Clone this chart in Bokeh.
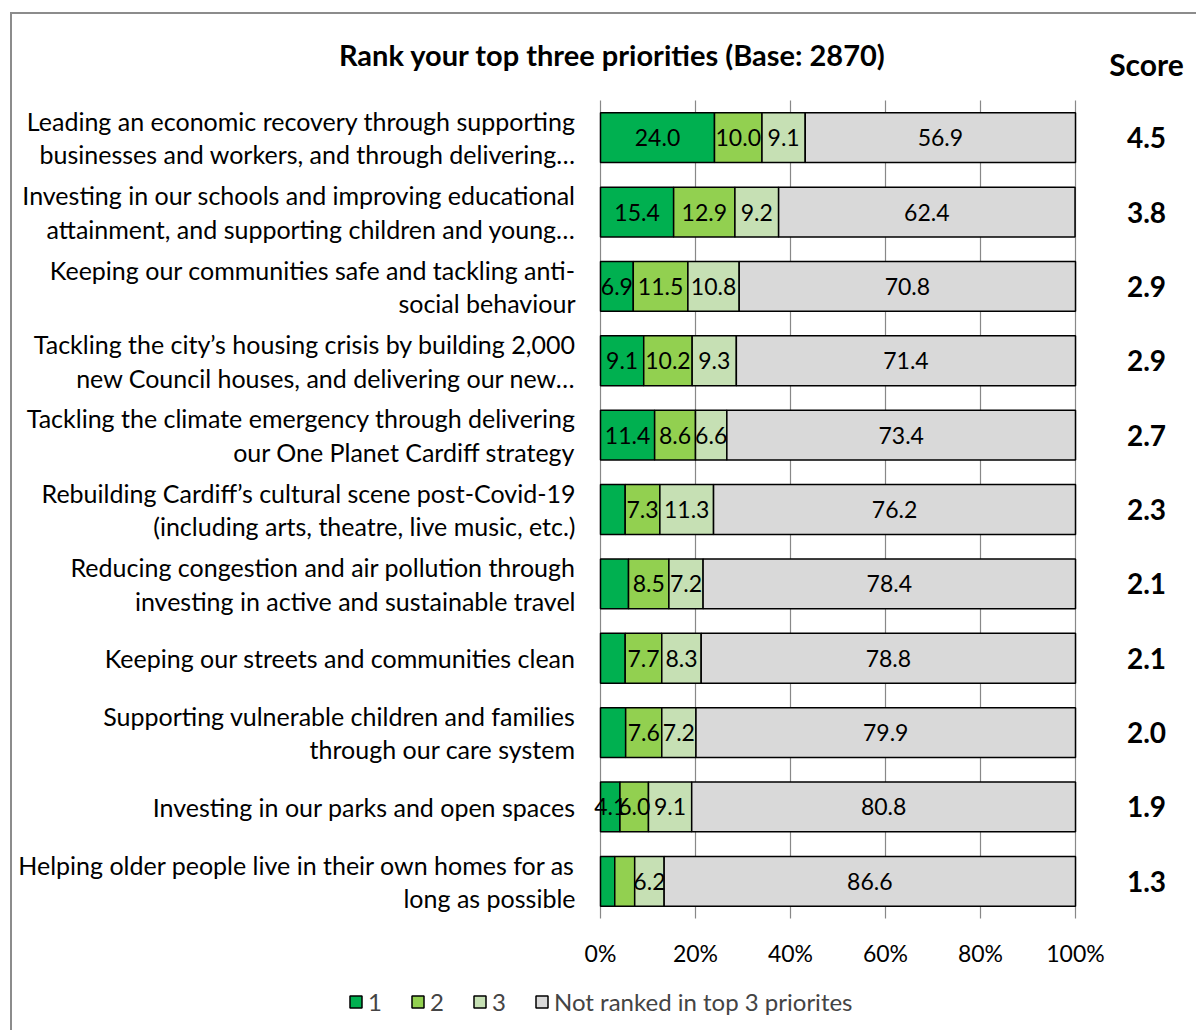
from bokeh.plotting import figure
from bokeh.models import Range1d, ColumnDataSource
from bokeh.core.properties import value
from bokeh.embed import file_html
from bokeh.resources import INLINE

categories = [
    "Leading an economic recovery through supporting\nbusinesses and workers, and through delivering\u2026",
    "Investing in our schools and improving educational\nattainment, and supporting children and young\u2026",
    "Keeping our communities safe and tackling anti-\nsocial behaviour",
    "Tackling the city\u2019s housing crisis by building 2,000\nnew Council houses, and delivering our new\u2026",
    "Tackling the climate emergency through delivering\nour One Planet Cardiff strategy",
    "Rebuilding Cardiff\u2019s cultural scene post-Covid-19\n(including arts, theatre, live music, etc.)",
    "Reducing congestion and air pollution through\ninvesting in active and sustainable travel",
    "Keeping our streets and communities clean",
    "Supporting vulnerable children and families\nthrough our care system",
    "Investing in our parks and open spaces",
    "Helping older people live in their own homes for as\nlong as possible",
]
rank1 = [24.0, 15.4, 6.9, 9.1, 11.4, 5.2, 5.9, 5.2, 5.3, 4.1, 3.0]
rank2 = [10.0, 12.9, 11.5, 10.2, 8.6, 7.3, 8.5, 7.7, 7.6, 6.0, 4.2]
rank3 = [9.1, 9.2, 10.8, 9.3, 6.6, 11.3, 7.2, 8.3, 7.2, 9.1, 6.2]
not_ranked = [56.9, 62.4, 70.8, 71.4, 73.4, 76.2, 78.4, 78.8, 79.9, 80.8, 86.6]
scores = ["4.5", "3.8", "2.9", "2.9", "2.7", "2.3", "2.1", "2.1", "2.0", "1.9", "1.3"]
show1 = [1, 1, 1, 1, 1, 0, 0, 0, 0, 1, 0]
show2 = [1, 1, 1, 1, 1, 1, 1, 1, 1, 1, 0]
series_names = ["1", "2", "3", "Not ranked in top 3 priorites"]
x_ticks = [0, 20, 40, 60, 80, 100]
x_tick_labels = ["0%", "20%", "40%", "60%", "80%", "100%"]
title_text = "Rank your top three priorities (Base: 2870)"
score_header = "Score"

colors = ["#00B050", "#92D050", "#C6E0B4", "#D9D9D9"]
FONT = "Lato"
keys = ["s1", "s2", "s3", "s4"]
n = len(categories)

# ---- layout (pixels, canvas coordinates) ----
W, H = 1186, 1018
PLOT_LEFT = 588          # canvas x of 0%
PLOT_W = 475             # pixels for 0..100%
BARS_TOP = 86            # canvas y of top of the bar area
BARS_BOTTOM = 904        # canvas y of bottom of the bar area
pxx = PLOT_W / 100.0
pxy = (BARS_BOTTOM - BARS_TOP) / n
x_range = Range1d(-PLOT_LEFT / pxx, (W - PLOT_LEFT) / pxx)
y_range = Range1d(-(H - BARS_BOTTOM) / pxy, n + BARS_TOP / pxy)

ypos = [n - i - 0.5 for i in range(n)]  # category slots, top to bottom
src = ColumnDataSource({"y": ypos, "s1": rank1, "s2": rank2, "s3": rank3, "s4": not_ranked})

p = figure(width=W, height=H, x_range=x_range, y_range=y_range,
           output_backend="svg", toolbar_location=None,
           x_axis_location=None, y_axis_location=None,
           min_border=0,
           styles={"border-left": "2px solid #8c8c8c", "border-top": "2px solid #8c8c8c",
                   "margin-top": "12px", "margin-left": "10px"})
p.outline_line_color = None
p.background_fill_color = "white"
p.xgrid.grid_line_color = None
p.ygrid.grid_line_color = None

# vertical gridlines over the bar area only
p.segment(x0=x_ticks, y0=[0] * len(x_ticks), x1=x_ticks, y1=[n] * len(x_ticks),
          line_color="#888888", line_width=1.2)

p.hbar_stack(keys, y="y", height=0.67, source=src, color=colors,
             line_color="black", line_width=1.5, legend_label=series_names)

# data labels
lx, ly, lt = [], [], []
for i in range(n):
    vals = [rank1[i], rank2[i], rank3[i], not_ranked[i]]
    shows = [show1[i], show2[i], 1, 1]
    start = 0.0
    for v, s in zip(vals, shows):
        if s:
            lx.append(start + v / 2)
            ly.append(ypos[i])
            lt.append(f"{v:.1f}")
        start += v
p.text(x=lx, y=ly, text=lt, text_align="center", text_baseline="middle",
       text_font=value(FONT), text_font_size="23px", text_color="black")

# x tick labels (percent scale)
p.text(x=x_ticks, y=[-34 / pxy] * len(x_ticks), text=x_tick_labels, text_align="center",
       text_baseline="middle", text_font=value(FONT), text_font_size="23px", text_color="black")

# category names
p.text(x=[-25 / pxx] * n, y=ypos, text=categories, text_align="right", text_baseline="middle",
       text_font=value(FONT), text_font_size="25px", text_color="black", text_line_height=1.12)

# scores
score_x = (PLOT_W + 71) / pxx
p.text(x=[score_x] * n, y=ypos, text=scores, text_align="center", text_baseline="middle",
       text_font=value(FONT), text_font_style="bold", text_font_size="28px", text_color="black")
p.text(x=[score_x], y=[n + 37 / pxy], text=[score_header], text_align="center",
       text_baseline="middle", text_font=value(FONT), text_font_style="bold",
       text_font_size="30px", text_color="black")

# title
p.text(x=[12 / pxx], y=[n + 46 / pxy], text=[title_text], text_align="center",
       text_baseline="middle", text_font=value(FONT), text_font_style="bold",
       text_font_size="29px", text_color="black")

# legend at the bottom of the frame
lg = p.legend[0]
lg.orientation = "horizontal"
lg.location = (336, 16)
lg.border_line_color = None
lg.background_fill_alpha = 0
lg.label_text_font = FONT
lg.label_text_font_size = "24px"
lg.glyph_width = 15
lg.glyph_height = 15
lg.label_standoff = 5
lg.spacing = 22
lg.padding = 0
lg.margin = 0

open("out.html", "w").write(file_html(p, INLINE))
